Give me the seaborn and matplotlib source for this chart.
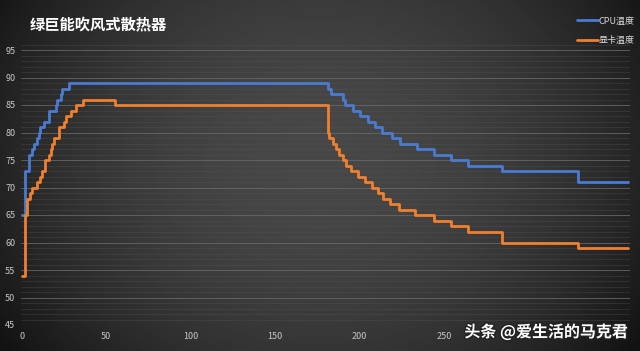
import numpy as np
import pandas as pd
import matplotlib
matplotlib.use("Agg")
import matplotlib.pyplot as plt
import matplotlib.patheffects as pe
from matplotlib.lines import Line2D
import seaborn as sns

# ---- data (change points of step curves) ----
cpu_x = [0, 2, 4, 6, 7, 9, 10, 11, 13, 16, 20, 21, 23, 24, 28,
         181, 183, 190, 191, 196, 200, 205, 209, 213, 219, 224,
         234, 244, 254, 264, 284, 329, 359]
cpu_y = [65, 73, 76, 77, 78, 79, 80, 81, 82, 84, 85, 86, 87, 88, 89,
         88, 87, 86, 85, 84, 83, 82, 81, 80, 79, 78,
         77, 76, 75, 74, 73, 71, 71]

gpu_x = [0, 2, 3, 5, 6, 9, 11, 12, 14, 16, 17, 18, 19, 22, 25, 26, 29, 32, 36, 55,
         181, 182, 184, 186, 188, 190, 192, 195, 199, 203, 207, 211, 214, 218,
         223, 233, 244, 254, 264, 284, 329, 359]
gpu_y = [54, 65, 68, 69, 70, 71, 72, 73, 75, 76, 77, 78, 79, 81, 82, 83, 84, 85, 86, 85,
         80, 79, 78, 77, 76, 75, 74, 73, 72, 71, 70, 69, 68, 67,
         66, 65, 64, 63, 62, 60, 59, 59]

series_names = ["CPU温度", "显卡温度"]
x_ticks = [0, 50, 100, 150, 200, 250]
y_ticks = [45, 50, 55, 60, 65, 70, 75, 80, 85, 90, 95]
title = "绿巨能吹风式散热器"
watermark = "头条 @爱生活的马克君"

df = pd.concat([
    pd.DataFrame({"t": cpu_x, "temp": cpu_y, "series": series_names[0]}),
    pd.DataFrame({"t": gpu_x, "temp": gpu_y, "series": series_names[1]}),
])

sns.set_theme(style="dark")
plt.rcParams["font.family"] = ["Noto Sans CJK SC", "DejaVu Sans"]

fig = plt.figure(figsize=(6.4, 3.51), dpi=100)

# background vignette
bg = fig.add_axes([0, 0, 1, 1], zorder=0)
xx, yy = np.meshgrid(np.linspace(-1, 1, 320), np.linspace(-1, 1, 176))
v = 0.28 - 0.14 * xx**2 - 0.06 * (yy + 0.1)**2
bg.imshow(v, cmap="gray", vmin=0, vmax=1, aspect="auto", extent=[0, 1, 0, 1],
          interpolation="bilinear")
bg.set_axis_off()

ax = fig.add_axes([21 / 640, 1 - 325 / 351, 609 / 640, (325 - 39) / 351], zorder=1)
ax.set_facecolor("none")

palette = {series_names[0]: "#4a7bd3", series_names[1]: "#f0802e"}
sns.lineplot(data=df, x="t", y="temp", hue="series", palette=palette,
             drawstyle="steps-post", linewidth=2.0, ax=ax, legend=False,
             estimator=None, sort=True)

ax.set_xlim(-0.5, 360)
ax.set_ylim(45, 97)
ax.set_yticks(y_ticks)
ax.set_yticks(np.arange(45, 97, 1), minor=True)
ax.set_xticks(x_ticks)
ax.grid(False)
ax.grid(axis="y", which="major", color="#6a6a6a", linewidth=0.7, alpha=0.8)
ax.grid(axis="y", which="minor", color="#555555", linewidth=0.4, alpha=0.6)
ax.set_axisbelow(True)
for s in ax.spines.values():
    s.set_visible(False)
ax.tick_params(axis="both", which="both", length=0, colors="#c8c8c8", labelsize=6.5)
ax.tick_params(axis="y", pad=4)
ax.tick_params(axis="x", pad=5)
ax.set_xlabel("")
ax.set_ylabel("")

# title
fig.text(30 / 640, 1 - 25 / 351, title, color="white", fontsize=11,
         fontweight="bold", va="center", ha="left")

# legend
handles = [Line2D([], [], color=palette[n], linewidth=2.0) for n in series_names]
leg = fig.legend(handles, series_names, loc="upper right",
                 bbox_to_anchor=(1.0, 1 - 11 / 351), frameon=False,
                 fontsize=6.5, handlelength=2.3, handletextpad=0.1,
                 labelspacing=1.2, borderaxespad=0.2)
for t in leg.get_texts():
    t.set_color("#d8d8d8")

# watermark
fig.text(628 / 640, 1 - 332 / 351, watermark, color="white", fontsize=11.5,
         fontweight="bold", ha="right", va="center", zorder=5,
         path_effects=[pe.withStroke(linewidth=2, foreground="#222222")])

fig.savefig("out.png", dpi=100)
